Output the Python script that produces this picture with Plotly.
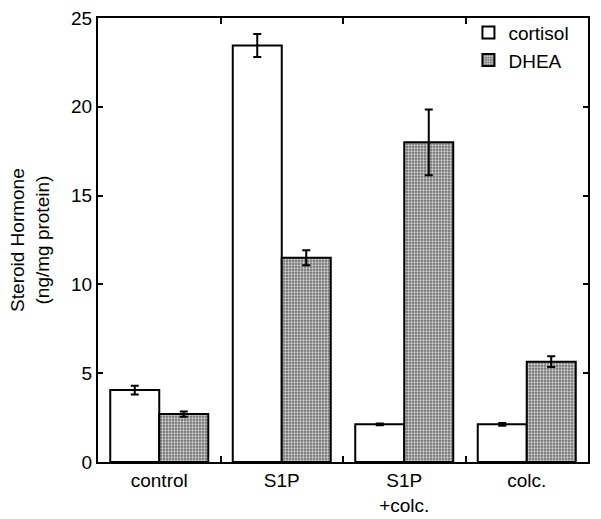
import plotly.graph_objects as go

categories = ["control", "S1P", "S1P<br>+colc.", "colc."]
cortisol = [4.05, 23.45, 2.12, 2.12]
cortisol_err = [0.25, 0.65, 0.05, 0.08]
dhea = [2.7, 11.5, 18.0, 5.65]
dhea_err = [0.15, 0.42, 1.85, 0.3]

font = "Liberation Sans, Arial, sans-serif"

fig = go.Figure()
fig.add_trace(go.Bar(
    name="cortisol", x=categories, y=cortisol,
    error_y=dict(type="data", array=cortisol_err, color="black", thickness=2, width=4),
    marker=dict(color="white", line=dict(color="black", width=2)),
))
fig.add_trace(go.Bar(
    name="DHEA", x=categories, y=dhea,
    error_y=dict(type="data", array=dhea_err, color="black", thickness=2, width=4),
    marker=dict(color="#8a8a8a", line=dict(color="black", width=2),
                pattern=dict(shape=".", fgcolor="#d4d4d4", bgcolor="#707070",
                             size=3, solidity=0.45, fillmode="replace")),
))

fig.update_layout(
    width=593, height=511,
    barmode="group", bargap=0.2, bargroupgap=0,
    plot_bgcolor="white", paper_bgcolor="white",
    margin=dict(l=90, r=13, t=6, b=57),
    font=dict(family=font, size=19, color="black"),
    legend=dict(x=0.756, y=1.01, xanchor="left", yanchor="top",
                bgcolor="rgba(0,0,0,0)", font=dict(size=19), tracegroupgap=0,
                itemwidth=30),
    showlegend=True,
)
fig.update_xaxes(
    type="category", showline=True, linecolor="black", linewidth=2, mirror="ticks",
    ticks="inside", tickson="boundaries", ticklen=6, tickwidth=2, tickcolor="black",
    showgrid=False, tickfont=dict(size=19), automargin=False,
)
fig.update_yaxes(
    range=[0, 25], dtick=5, showline=True, linecolor="black", linewidth=2, mirror="ticks",
    ticks="inside", ticklen=5, tickwidth=2, tickcolor="black", showgrid=False,
    zeroline=False, tickfont=dict(size=19), automargin=False, ticklabeloverflow="allow",
)
fig.add_annotation(
    text="Steroid Hormone<br>(ng/mg protein)", textangle=-90,
    xref="paper", yref="paper", x=-0.139, y=0.5, xanchor="center", yanchor="middle",
    showarrow=False, font=dict(size=19),
)

fig.write_html("out.html")
